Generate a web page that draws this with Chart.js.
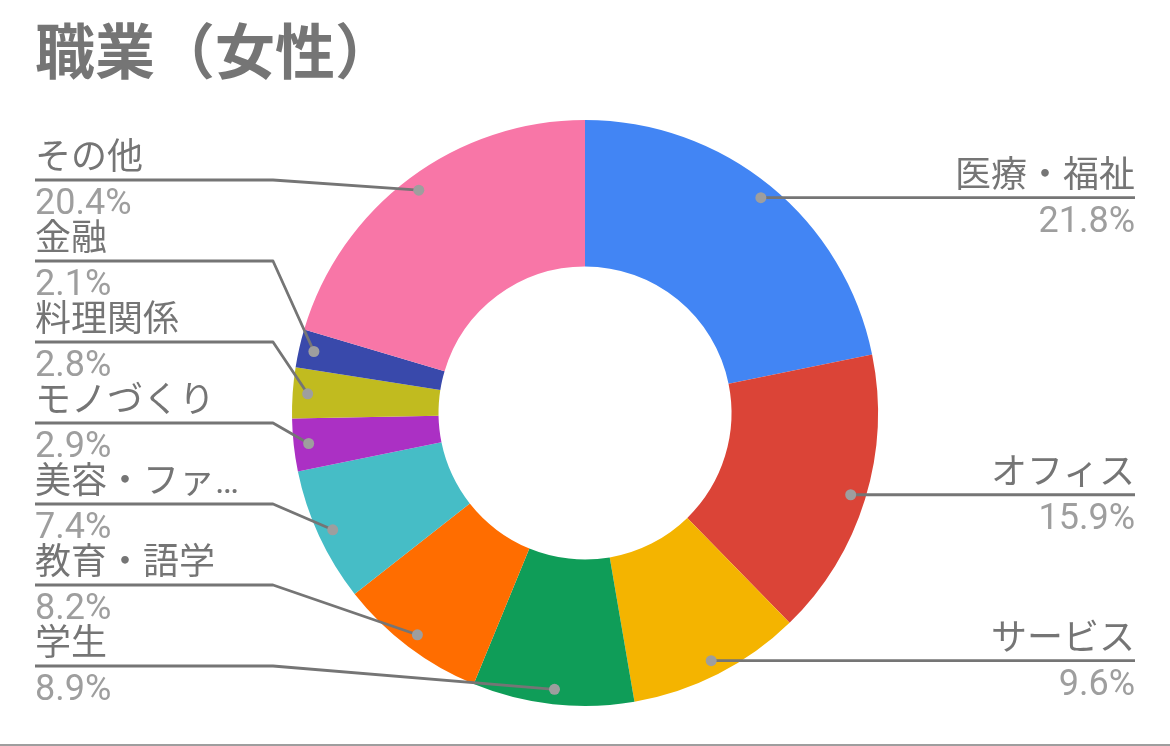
<!DOCTYPE html>
<html>
<head>
<meta charset="utf-8">
<script src="https://cdn.jsdelivr.net/npm/chart.js@4/dist/chart.umd.min.js"></script>
<style>
  html, body { margin: 0; padding: 0; background: #ffffff; }
  #wrap { width: 1170px; height: 746px; position: relative; }
</style>
</head>
<body>
<div id="wrap"><canvas id="c" width="1170" height="746"></canvas></div>
<script>
const chartTitle = '職業（女性）';
const categories = ['医療・福祉', 'オフィス', 'サービス', '学生', '教育・語学', '美容・ファ…', 'モノづくり', '料理関係', '金融', 'その他'];
const shares = [21.8, 15.9, 9.6, 8.9, 8.2, 7.4, 2.9, 2.8, 2.1, 20.4];
const sliceColors = ['#4285F4', '#DB4437', '#F4B400', '#0F9D58', '#FF6D00', '#46BDC6', '#AB30C4', '#C1BB1F', '#3949AB', '#F876A7'];

const FONT = "Roboto, 'Noto Sans CJK JP', sans-serif";

const leaderLabels = {
  id: 'leaderLabels',
  afterDatasetsDraw(chart) {
    const ctx = chart.ctx;
    const meta = chart.getDatasetMeta(0);
    const area = chart.chartArea;
    const items = meta.data.map((arc, i) => {
      const p = arc.getProps(['x', 'y', 'startAngle', 'endAngle', 'outerRadius'], true);
      const mid = (p.startAngle + p.endAngle) / 2;
      const r = p.outerRadius - 15;
      return {
        i,
        px: p.x + Math.cos(mid) * r,
        py: p.y + Math.sin(mid) * r,
        side: Math.cos(mid) >= 0 ? 'right' : 'left',
        cx: p.x, cy: p.y, R: p.outerRadius
      };
    });
    const gap = 81;
    ['left', 'right'].forEach(side => {
      const group = items.filter(it => it.side === side).sort((a, b) => a.py - b.py);
      if (!group.length) return;
      const bottomLimit = group[0].cy + group[0].R - 40;
      let next = Infinity;
      for (let k = group.length - 1; k >= 0; k--) {
        let y = Math.min(group[k].py, bottomLimit, next - gap);
        group[k].ly = y;
        next = y;
      }
    });

    ctx.save();
    items.forEach(it => {
      const isLeft = it.side === 'left';
      const textX = isLeft ? area.left : area.right;
      const elbowX = isLeft ? it.cx - 312 : it.cx + 312;
      ctx.strokeStyle = '#757575';
      ctx.lineWidth = 2.8;
      ctx.lineJoin = 'round';
      ctx.beginPath();
      ctx.moveTo(it.px, it.py);
      if (Math.abs(it.ly - it.py) > 0.5) ctx.lineTo(elbowX, it.ly);
      ctx.lineTo(textX, it.ly);
      ctx.stroke();

      ctx.fillStyle = '#9E9E9E';
      ctx.beginPath();
      ctx.arc(it.px, it.py, 5.5, 0, Math.PI * 2);
      ctx.fill();

      ctx.textAlign = isLeft ? 'left' : 'right';
      ctx.textBaseline = 'alphabetic';
      ctx.font = '36px ' + FONT;
      ctx.fillStyle = '#757575';
      ctx.fillText(categories[it.i], textX, it.ly - 11);
      ctx.fillStyle = '#9E9E9E';
      ctx.fillText(shares[it.i].toFixed(1) + '%', textX, it.ly + 34);
    });
    ctx.fillStyle = '#9E9E9E';
    ctx.fillRect(0, chart.height - 2, chart.width, 2);
    ctx.restore();
  }
};

new Chart(document.getElementById('c'), {
  type: 'doughnut',
  data: {
    labels: categories,
    datasets: [{
      data: shares,
      backgroundColor: sliceColors,
      borderWidth: 0,
      hoverBorderWidth: 0,
      offset: 0,
      hoverOffset: 0
    }]
  },
  options: {
    responsive: false,
    devicePixelRatio: 1,
    animation: false,
    events: [],
    cutout: '50%',
    layout: { padding: { left: 35, right: 35, top: 0, bottom: 40 } },
    plugins: {
      legend: { display: false },
      tooltip: { enabled: false },
      title: {
        display: true,
        text: chartTitle,
        align: 'start',
        color: '#757575',
        font: { family: FONT, size: 60, weight: 'bold' },
        padding: { top: 23, bottom: 25 }
      }
    }
  },
  plugins: [leaderLabels]
});
</script>
</body>
</html>
